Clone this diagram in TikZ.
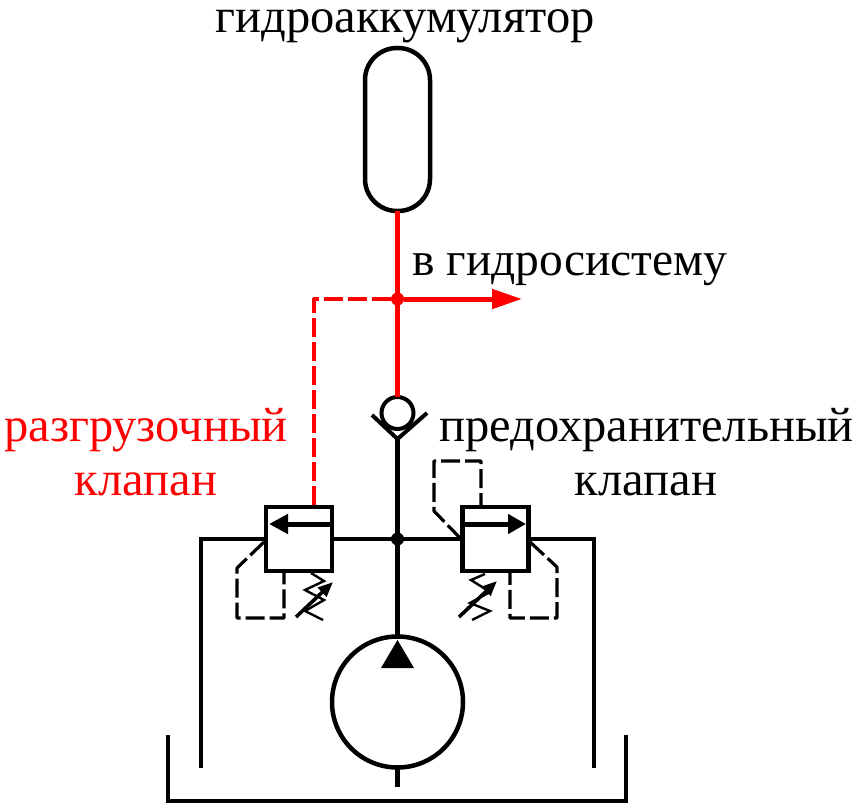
\documentclass[tikz,border=0pt]{standalone}
\usepackage{fontspec}
\setmainfont{Liberation Serif}
\usetikzlibrary{arrows.meta}
\tikzset{
  flow/.style={line width=4.5pt},
  pilot/.style={line width=3.2pt, dash pattern=on 19pt off 5pt, line join=round},
  thinline/.style={line width=2.4pt},
  valve/.style={draw, line width=4.5pt, fill=white, minimum width=66pt, minimum height=64pt, inner sep=0pt, outer sep=0pt},
  junction/.style={circle, fill, inner sep=0pt, minimum size=13pt},
  caption/.style={font=\fontsize{48.5}{48.5}\selectfont, anchor=base, inner sep=0pt},
  bigtip/.style={-{Triangle[length=#1pt, width=19pt]}},
  adjust/.style={line width=3.6pt, -{Triangle[length=15pt, width=12pt]}}
}
\begin{document}
\begin{tikzpicture}[x=1pt, y=-1pt]
   \useasboundingbox (0,0) rectangle (859,808);
   % symbols
   \node[draw, line width=4.5pt, rounded corners=32pt, minimum width=65pt, minimum height=163pt, inner sep=0pt, outer sep=0pt] (accu) at (397.5,129.5) {};
   \node[valve] (valve_l) at (299,539) {};
   \node[valve] (valve_r) at (495.5,539) {};
   \node[draw, circle, line width=4.5pt, minimum size=131pt, inner sep=0pt, outer sep=0pt] (pump) at (397.5,702) {};
   \node[draw, circle, line width=4pt, minimum size=32pt, inner sep=0pt, outer sep=0pt] (check) at (397.5,413) {};
   \node[junction] (j_main) at (397.5,539) {};
   \node[junction, red] (j_red) at (397.5,299) {};
   % free ends
   \coordinate (out) at (522,299);
   \coordinate (corner) at (314,299);
   \coordinate (seat) at (397.5,439);
   \coordinate (seat_l) at (372,415);
   \coordinate (seat_r) at (427,413);
   \coordinate (tank_l) at (168,735);
   \coordinate (tank_r) at (626,735);
   \coordinate (tank_bl) at (168,801);
   \coordinate (tank_br) at (626,801);
   \coordinate (ret_l) at (201,768);
   \coordinate (ret_r) at (594,768);
   \coordinate (suction) at (397.5,787);
   % red lines
   \draw[flow, red] (accu.south) -- (check.north);
   \draw[flow, red, line width=5pt, bigtip=30] (j_red) -- (out);
   \draw[pilot, red] (j_red) -- (corner) -- (corner |- valve_l.north);
   % pressure line
   \draw[flow, line width=5pt] (seat) -- (pump.north);
   \draw[flow] (valve_l.east) -- (valve_r.west);
   \draw[flow, line width=4pt, line join=miter] (seat_l) -- (seat) -- (seat_r);
   \fill (397.5,640) -- (414,668) -- (381,668) -- cycle;
   % return lines and tank
   \draw[flow] (valve_l.west) -- (ret_l |- valve_l.west) -- (ret_l);
   \draw[flow] (valve_r.east) -- (ret_r |- valve_r.east) -- (ret_r);
   \draw[flow] (pump.south) -- (suction);
   \draw[flow, line join=miter] (tank_l) -- (tank_bl) -- (tank_br) -- (tank_r);
   % arrows in the valves
   \draw[flow, line width=5pt, -{Triangle[length=19pt, width=19pt]}] (332,524) -- (269,524);
   \draw[flow, line width=5pt, -{Triangle[length=18pt, width=19pt]}] (464,524) -- (526,524);
   % pilot lines
   \draw[pilot] (264,542) -- (237,568) -- (237,618) -- (284,618) -- (284,573);
   \draw[pilot] (530,542) -- (557,567) -- (557,618) -- (510,618) -- (510,573);
   \draw[pilot] (461,539) -- (434,511) -- (434,461) -- (481,461) -- (481,505);
   % springs
   \draw[thinline] (311,573) -- (324,581) -- (305,590) -- (324,600) -- (305,611) -- (323,620);
   \draw[thinline] (485,574) -- (471,580) -- (490,592) -- (470,603) -- (490,611) -- (472,620);
   \draw[adjust] (296,617) -- (333,582);
   \draw[adjust] (459,617) -- (497,581);
   % labels
   \node[caption] (t_accu) at (405,33) {гидроаккумулятор};
   \node[caption, font=\fontsize{47.5}{47.5}\selectfont] (t_sys) at (570,275) {в гидросистему};
   \node[caption, red] (t_unl1) at (146,441) {разгрузочный};
   \node[caption, red] (t_unl2) at (146,495) {клапан};
   \node[caption] (t_rel1) at (646.5,441) {предохранительный};
   \node[caption] (t_rel2) at (646,495) {клапан};
\end{tikzpicture}
\end{document}
